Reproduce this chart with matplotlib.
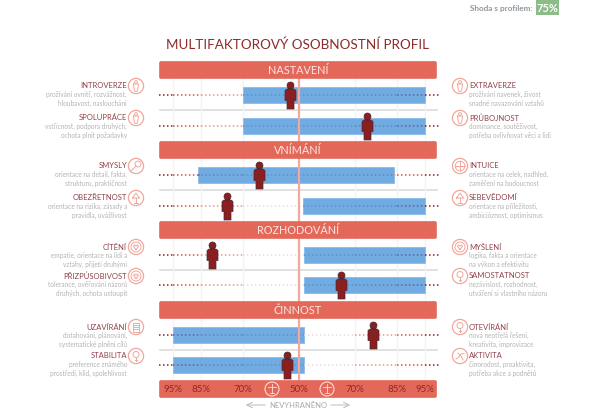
import numpy as np
import matplotlib
matplotlib.use("Agg")
import matplotlib.pyplot as plt
from matplotlib.patches import Circle, FancyBboxPatch, Rectangle
from matplotlib.path import Path

# chart values, signed percent offset from the 50% centre line
groups = ["NASTAVENÍ", "VNÍMÁNÍ", "ROZHODOVÁNÍ", "ČINNOST"]
bar_start = [-20, -20, -36, 1.5, 2, 2, -45, -45]
bar_end = [45, 45, 34, 45, 45, 45, 2, 2]
person_pos = [-3, 24.5, -14, -25.5, -31, 15, 26.5, -4]
scale_ticks = [-45, -35, -20, 0, 20, 35, 45]
scale_labels = ["95%", "85%", "70%", "50%", "70%", "85%", "95%"]

left_names = ["INTROVERZE", "SPOLUPRÁCE", "SMYSLY", "OBEZŘETNOST", "CÍTĚNÍ", "PŘIZPŮSOBIVOST", "UZAVÍRÁNÍ", "STABILITA"]
left_desc = [
	"prožívání uvnitř, rozvážnost,\nhloubavost, naslouchání",
	"vstřícnost, podpora druhých,\nochota plnit požadavky",
	"orientace na detail, fakta,\nstrukturu, praktičnost",
	"orientace na rizika, zásady a\npravidla, uvážlivost",
	"empatie, orientace na lidi a\nvztahy, přijetí druhými",
	"tolerance, ověřování názorů\ndruhých, ochota ustoupit",
	"dotahování, plánování,\nsystematické plnění cílů",
	"preference známého\nprostředí, klid, spolehlivost",
]
right_names = ["EXTRAVERZE", "PRŮBOJNOST", "INTUICE", "SEBEVĚDOMÍ", "MYŠLENÍ", "SAMOSTATNOST", "OTEVÍRÁNÍ", "AKTIVITA"]
right_desc = [
	"prožívání navenek, živost\nsnadné navazování vztahů",
	"dominance, soutěživost,\npotřeba ovlivňovat věci a lidi",
	"orientace na celek, nadhled,\nzaměření na budoucnost",
	"orientace na příležitosti,\nambicióznost, optimismus",
	"logika, fakta a orientace\nna výkon a efektivitu",
	"nezávislost, rozhodnost,\nutváření si vlastního názoru",
	"nová neotřelá řešení,\nkreativita, improvizace",
	"činorodost, proaktivita,\npotřeba akce a podnětů",
]

# layout in pixels
row_y = [95, 125.5, 174.5, 205.5, 254.5, 285, 334.5, 365]
band_y = [61, 141, 221, 301]
sep_y = [110, 190, 270, 350]
name_y = [86, 118, 166, 198, 247, 276, 327, 356]
X0 = 298.5
UNIT = 2.8

BAND = "#e4685a"
BAR = "#70abe2"
DARK = "#8a1f22"
HEAD = "#92424a"
GREY = "#b4b4b4"
ICON = "#f2a79d"

plt.rcParams['font.family'] = ['Lato', 'DejaVu Sans']

fig = plt.figure(figsize=(6, 4.16), dpi=100)

def layer(xlim):
	a = fig.add_axes([0, 0, 1, 1])
	a.set_xlim(*xlim)
	a.set_ylim(416, 0)
	a.axis('off')
	a.patch.set_alpha(0)
	return a

bg = layer((0, 600))
ax = layer((-X0/UNIT, (600 - X0)/UNIT))
top = layer((0, 600))

def band(y, h=18):
	top.add_patch(FancyBboxPatch((160, y + 1), 276, h - 2, boxstyle="round,pad=0,rounding_size=1", fc=BAND, ec=BAND, lw=1.2, zorder=5))

# header
bg.text(533, 8, "Shoda s profilem:", ha='right', va='center', fontsize=5.9, color="#8f979c", weight='bold')
bg.add_patch(Rectangle((536, 0), 23, 15, fc="#8cbc87", ec='none'))
bg.text(547.5, 8, "75%", ha='center', va='center', fontsize=8, color="white", weight='bold')
bg.text(298, 45, "MULTIFAKTOROVÝ OSOBNOSTNÍ PROFIL", ha='center', va='center', fontsize=9.7, color="#8c2a2c")

# grid and separators
for t in scale_ticks:
	if t != 0:
		ax.plot([t, t], [79, 380], color="#f4f4f4", lw=1, zorder=1)
for y in sep_y:
	bg.plot([160, 437], [y, y], color="#dcdcdc", lw=1.2, zorder=1)

for y, g in zip(band_y, groups):
	band(y)
	top.text(298, y + 9.5, g, ha='center', va='center', fontsize=7.8, color="#fbe6e2", zorder=6)
band(380)

# bars
for y, a, b in zip(row_y, bar_start, bar_end):
	ax.barh(y, b - a, left=a, height=16, color=BAR, edgecolor="#8fc0ea", lw=0.7, zorder=2)

# dotted guides, stronger towards the ends; darker where they cross a bar
dot_segs = [(45, 50, DARK, DARK), (35, 45, "#d4504a", "#6f5a94"), (20, 35, "#f0948a", "#6a80ba"), (0, 20, "#ebd9d6", "#5f93c8")]
for y, a, b in zip(row_y, bar_start, bar_end):
	for lo, hi, c, c_bar in dot_segs:
		for sign in (-1, 1):
			s0, s1 = sorted((sign*lo, sign*hi))
			# part left of the bar, part inside it, part right of it
			if s0 < min(s1, a):
				ax.plot([s0, min(s1, a)], [y, y], color=c, lw=1.1, ls=(0, (1, 1.6)), zorder=3)
			if max(s0, a) < min(s1, b):
				ax.plot([max(s0, a), min(s1, b)], [y, y], color=c_bar, lw=1.1, ls=(0, (1, 1.6)), zorder=3)
			if max(s0, b) < s1:
				ax.plot([max(s0, b), s1], [y, y], color=c, lw=1.1, ls=(0, (1, 1.6)), zorder=3)

# centre line
ax.plot([0, 0], [79, 380], color="#f3a89f", lw=1.6, zorder=4)

# person marker
body = [(-5.5, 5), (-3.5, 6.5), (3.5, 6.5), (5.5, 5), (5.5, -5), (3.5, -5), (3.5, -13.5),
	(-3.5, -13.5), (-3.5, -5), (-5.5, -5), (-5.5, 5)]
head = Path.circle((0, 10), 3.5)
verts = np.vstack([np.array(body), head.vertices])
codes = [Path.MOVETO] + [Path.LINETO]*(len(body) - 1) + list(head.codes)
person = Path(verts, codes)
ax.scatter(person_pos, row_y, marker=person, s=378, c=DARK, edgecolors="#4c2a2a", linewidths=0.5, zorder=7)

# icons
def icon(x, y, kind):
	bg.add_patch(Circle((x, y), 7.6, fc='white', ec=ICON, lw=0.9, zorder=2))
	kw = dict(color=ICON, lw=0.7, zorder=3)
	if kind == 'person':
		bg.add_patch(Circle((x, y - 4), 1.4, fc='none', ec=ICON, lw=0.7, zorder=3))
		bg.plot([x - 2.5, x + 2.5, x + 2, x + 1, x - 1, x - 2, x - 2.5], [y - 2, y - 2, y + 2, y + 5.5, y + 5.5, y + 2, y - 2], **kw)
	elif kind == 'lens':
		bg.add_patch(Circle((x + 2, y - 2), 3, fc='none', ec=ICON, lw=0.7, zorder=3))
		bg.plot([x - 4.5, x], [y + 4.5, y], **kw)
	elif kind == 'globe':
		bg.add_patch(Circle((x, y), 4.8, fc='none', ec=ICON, lw=0.7, zorder=3))
		bg.plot([x - 4.8, x + 4.8], [y, y], **kw)
		bg.plot([x, x], [y - 4.8, y + 4.8], **kw)
	elif kind == 'heart':
		bg.add_patch(Circle((x, y), 5, fc='none', ec=ICON, lw=0.7, zorder=3))
		bg.plot([x, x - 2.5, x - 1.3, x, x + 1.3, x + 2.5, x], [y + 2.5, y - 0.5, y - 2, y - 0.8, y - 2, y - 0.5, y + 2.5], **kw)
	elif kind == 'doc':
		bg.add_patch(Rectangle((x - 3, y - 4.5), 6, 9, fc='none', ec=ICON, lw=0.7, zorder=3))
		for d in (-2, 0, 2):
			bg.plot([x - 1.8, x + 1.8], [y + d, y + d], **kw)
	elif kind == 'bulb':
		bg.add_patch(Circle((x, y - 1.5), 3, fc='none', ec=ICON, lw=0.7, zorder=3))
		bg.plot([x - 1, x + 1], [y + 3.5, y + 3.5], **kw)
		bg.plot([x, x], [y + 1.5, y + 5], **kw)
	elif kind == 'lamp':
		bg.plot([x - 3.5, x, x + 3.5, x - 3.5], [y, y - 5, y, y], **kw)
		bg.plot([x, x], [y, y + 4.5], **kw)
		bg.plot([x - 2, x + 2], [y + 4.5, y + 4.5], **kw)
	elif kind == 'run':
		bg.plot([x - 4, x - 1, x + 1, x + 4], [y + 3, y + 1, y - 2, y - 2.5], **kw)
		bg.plot([x - 2, x + 1, x + 3], [y - 3, y, y + 4], **kw)

left_icons = ['person', 'person', 'lens', 'lamp', 'heart', 'heart', 'doc', 'bulb']
right_icons = ['person', 'person', 'globe', 'lamp', 'heart', 'bulb', 'bulb', 'run']

for i in range(8):
	ny = name_y[i]
	bg.text(127, ny, left_names[i], ha='right', va='center', fontsize=5.5, color=HEAD)
	bg.text(127, ny + 13, left_desc[i], ha='right', va='center', fontsize=4.7, color=GREY, linespacing=1.4)
	icon(136, ny, left_icons[i])
	bg.text(469, ny, right_names[i], ha='left', va='center', fontsize=5.5, color=HEAD)
	bg.text(469, ny + 13, right_desc[i], ha='left', va='center', fontsize=4.7, color=GREY, linespacing=1.4)
	icon(460, ny, right_icons[i])

# scale band
for t, lab in zip(scale_ticks, scale_labels):
	top.text(t, 389.5, lab, ha='center', va='center', fontsize=7, color="#8a2a28", zorder=8, transform=ax.transData)
for x in (272, 327):
	top.add_patch(Circle((x, 389), 7, fc='none', ec="#fbdcd6", lw=0.8, zorder=7))
	top.plot([x - 4, x + 4], [387, 387], color="#fbdcd6", lw=0.6, zorder=7)
	top.plot([x, x], [384, 393], color="#fbdcd6", lw=0.6, zorder=7)
	top.plot([x - 2, x + 2], [393, 393], color="#fbdcd6", lw=0.6, zorder=7)

# bottom caption
bg.text(298, 405, "NEVYHRANĚNO", ha='center', va='center', fontsize=5.5, color="#a8a8a8")
bg.annotate("", xy=(243, 405), xytext=(268, 405), arrowprops=dict(arrowstyle='->', color="#bbbbbb", lw=0.7))
bg.annotate("", xy=(353, 405), xytext=(328, 405), arrowprops=dict(arrowstyle='->', color="#bbbbbb", lw=0.7))

fig.savefig("out.png", dpi=100)
plt.close(fig)
